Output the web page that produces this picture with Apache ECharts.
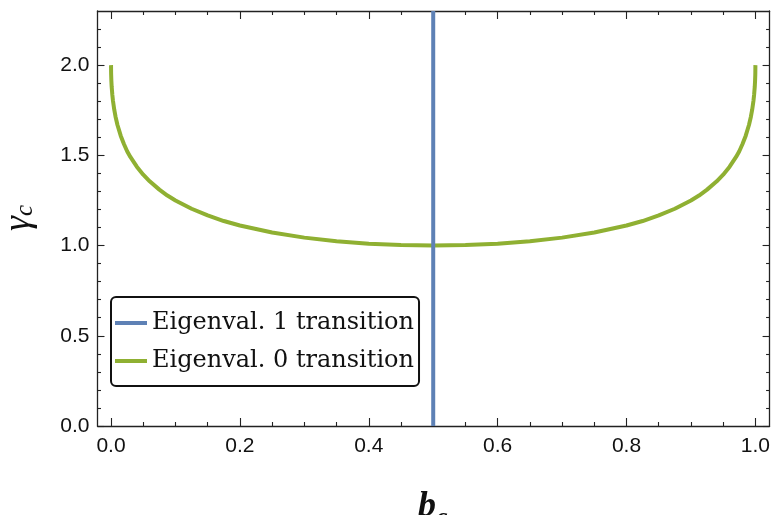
<!DOCTYPE html>
<html>
<head>
<meta charset="utf-8">
<title>Critical gamma vs b</title>
<script src="https://cdn.jsdelivr.net/npm/echarts@6/dist/echarts.min.js"></script>
<style>
  html, body { margin: 0; padding: 0; background: #fff; }
  #chart { width: 773px; height: 515px; }
</style>
</head>
<body>
<div id="chart"></div>
<script>
// Eigenvalue-0 transition curve: critical gamma against b
const bValues = [
  0, 0.0001, 0.0002, 0.0005, 0.001, 0.002, 0.003, 0.005, 0.007, 0.01,
  0.015, 0.02, 0.025, 0.03, 0.04, 0.05, 0.06, 0.075, 0.0875, 0.1, 0.125, 0.15, 0.175, 0.2,
  0.25, 0.3, 0.35, 0.4, 0.45, 0.5,
  0.55, 0.6, 0.65, 0.7, 0.75, 0.8, 0.825, 0.85, 0.875, 0.9, 0.9125, 0.925, 0.94,
  0.95, 0.96, 0.97, 0.975, 0.98, 0.985, 0.99, 0.993, 0.995, 0.997, 0.998,
  0.999, 0.9995, 0.9998, 0.9999, 1
];
const gammaValues = [
  2.0, 1.961, 1.945, 1.914, 1.88, 1.836, 1.803, 1.753, 1.714, 1.668,
  1.609, 1.563, 1.523, 1.491, 1.437, 1.393, 1.356, 1.31, 1.277, 1.25, 1.204, 1.167, 1.136, 1.111,
  1.072, 1.044, 1.024, 1.01, 1.003, 1.0,
  1.003, 1.01, 1.024, 1.044, 1.072, 1.111, 1.136, 1.167, 1.204, 1.25, 1.277, 1.31, 1.356,
  1.393, 1.437, 1.491, 1.523, 1.563, 1.609, 1.668, 1.714, 1.753, 1.803, 1.836,
  1.88, 1.914, 1.945, 1.961, 2.0
];

// Eigenvalue-1 transition: vertical line at b = 0.5
const transitionB = [0.5, 0.5];
const transitionGamma = [0, 2.3];

const seriesNames = ['Eigenval. 1 transition', 'Eigenval. 0 transition'];

// Frame ticks
const xMajorTicks = [0, 0.2, 0.4, 0.6, 0.8, 1.0];
const xMinorTicks = [0.05, 0.1, 0.15, 0.25, 0.3, 0.35, 0.45, 0.5, 0.55, 0.65, 0.7, 0.75, 0.85, 0.9, 0.95];
const yMajorTicks = [0, 0.5, 1.0, 1.5, 2.0];
const yMinorTicks = [0.1, 0.2, 0.3, 0.4, 0.6, 0.7, 0.8, 0.9, 1.1, 1.2, 1.3, 1.4, 1.6, 1.7, 1.8, 1.9, 2.1, 2.2];

const X_MIN = -0.021, X_MAX = 1.022;
const Y_MIN = 0, Y_MAX = 2.3;

const BLUE = '#5E81B5';
const GREEN = '#8FB032';
const FRAME = '#222';
const SANS = '"Liberation Sans", Arial, Helvetica, sans-serif';

function frameAxis(kind, position, ticks, len, withLine, withLabels) {
  const ax = {
    type: 'value',
    position: position,
    min: kind === 'x' ? X_MIN : Y_MIN,
    max: kind === 'x' ? X_MAX : Y_MAX,
    splitLine: { show: false },
    axisLine: { show: withLine, onZero: false, lineStyle: { color: FRAME, width: 1.3 } },
    axisTick: { show: true, inside: true, length: len, customValues: ticks,
                lineStyle: { color: FRAME, width: 1.1 } },
    axisLabel: { show: false }
  };
  if (withLabels) {
    ax.axisLabel = {
      show: true,
      customValues: ticks,
      formatter: v => v.toFixed(1),
      color: '#111',
      fontFamily: SANS,
      fontSize: 21,
      margin: kind === 'x' ? 10 : 8
    };
  }
  return ax;
}

const chart = echarts.init(document.getElementById('chart'), null, { renderer: 'canvas' });

chart.setOption({
  animation: false,
  backgroundColor: '#fff',
  textStyle: { fontFamily: SANS },
  grid: { left: 97.5, right: 3, top: 11, bottom: 89, containLabel: false },
  xAxis: [
    frameAxis('x', 'bottom', xMajorTicks, 8, true, true),
    frameAxis('x', 'bottom', xMinorTicks, 4, false, false),
    frameAxis('x', 'top', xMajorTicks, 8, true, false),
    frameAxis('x', 'top', xMinorTicks, 4, false, false)
  ],
  yAxis: [
    frameAxis('y', 'left', yMajorTicks, 7, true, true),
    frameAxis('y', 'left', yMinorTicks, 3.5, false, false),
    frameAxis('y', 'right', yMajorTicks, 7, true, false),
    frameAxis('y', 'right', yMinorTicks, 3.5, false, false)
  ],
  legend: {
    orient: 'vertical',
    left: 111,
    top: 297,
    data: seriesNames,
    backgroundColor: '#fff',
    borderColor: '#111',
    borderWidth: 2,
    borderRadius: 5,
    padding: [14, 5, 13, 4],
    itemGap: 14,
    itemWidth: 32,
    itemHeight: 4,
    icon: 'rect',
    textStyle: { fontFamily: 'DejaVu Serif', fontSize: 24, color: '#111' }
  },
  series: [
    {
      name: seriesNames[1],
      type: 'line',
      xAxisIndex: 0,
      yAxisIndex: 0,
      data: bValues.map((b, i) => [b, gammaValues[i]]),
      showSymbol: false,
      symbol: 'none',
      lineStyle: { color: GREEN, width: 4, join: 'round' },
      itemStyle: { color: GREEN },
      z: 2
    },
    {
      name: seriesNames[0],
      type: 'line',
      xAxisIndex: 0,
      yAxisIndex: 0,
      data: transitionB.map((b, i) => [b, transitionGamma[i]]),
      showSymbol: false,
      symbol: 'none',
      lineStyle: { color: BLUE, width: 4 },
      itemStyle: { color: BLUE },
      z: 3
    }
  ],
  graphic: [
    {
      type: 'text',
      x: 19,
      y: 218,
      rotation: Math.PI / 2,
      style: {
        text: '{g|γ}{s|c}',
        align: 'center',
        verticalAlign: 'middle',
        rich: {
          g: { fontFamily: 'Liberation Serif', fontStyle: 'italic', fontSize: 38, fill: '#111' },
          s: { fontFamily: 'Liberation Serif', fontStyle: 'italic', fontSize: 25, fill: '#111', padding: [12, 0, 0, 0] }
        }
      }
    },
    {
      type: 'text',
      x: 418,
      y: 483,
      style: {
        text: '{b|b}{s|c}',
        rich: {
          b: { fontFamily: 'Liberation Serif', fontStyle: 'italic', fontWeight: 'bold', fontSize: 36, fill: '#111' },
          s: { fontFamily: 'Liberation Serif', fontStyle: 'italic', fontWeight: 'bold', fontSize: 26, fill: '#111', padding: [22, 0, 0, 0] }
        }
      }
    }
  ]
});
</script>
</body>
</html>
